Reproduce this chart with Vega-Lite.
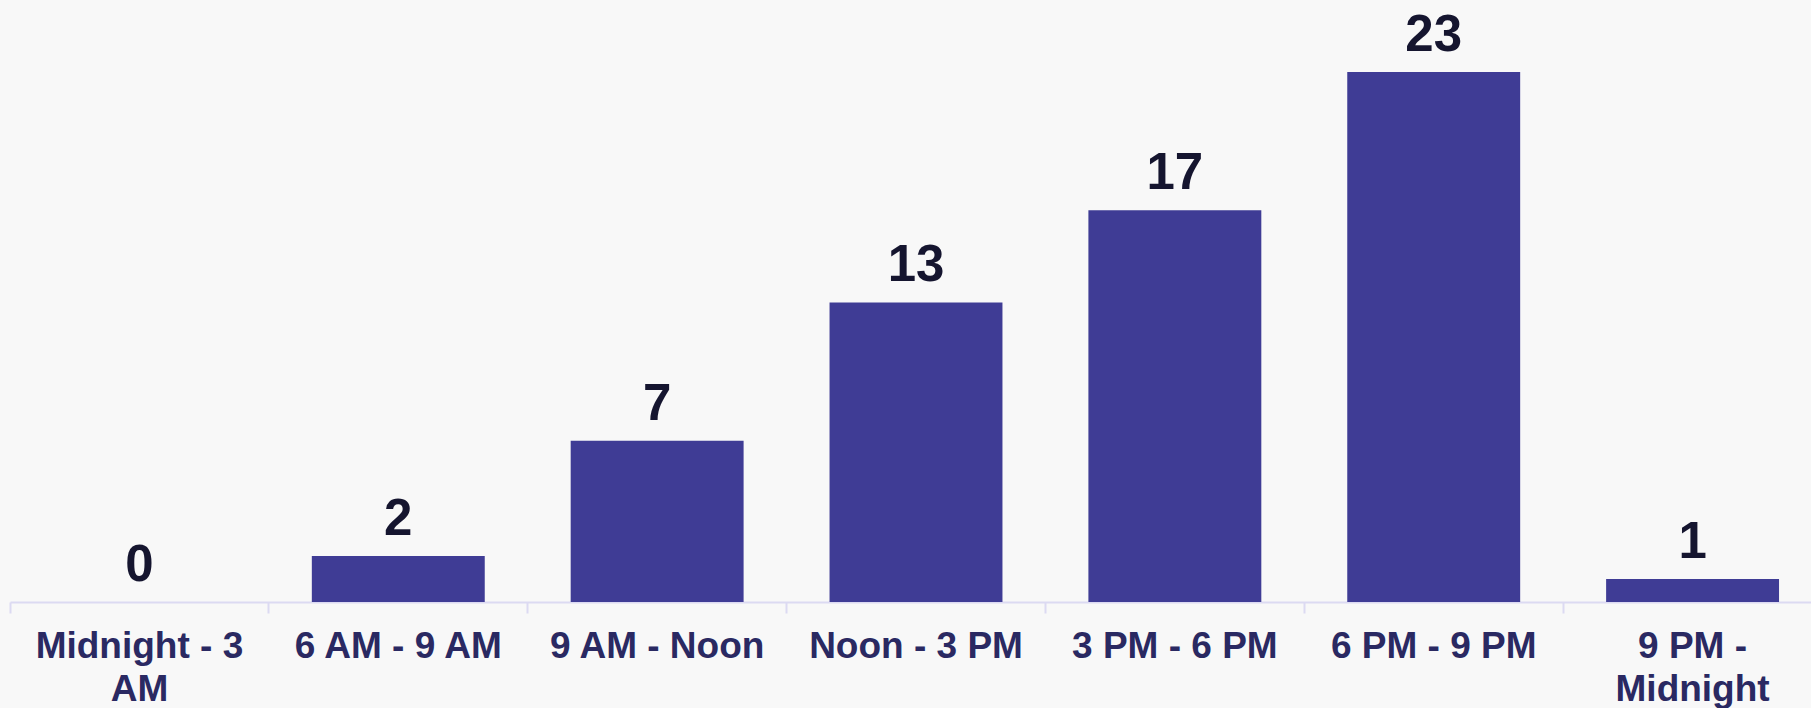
{
  "$schema": "https://vega.github.io/schema/vega-lite/v6.json",
  "autosize": "none",
  "width": 1812,
  "height": 530,
  "padding": {"left": 10, "top": 72, "right": 0, "bottom": 106},
  "background": "#f8f8f8",
  "config": {"view": {"stroke": null}, "font": "Liberation Sans"},
  "data": {
    "values": [
      {"period": "Midnight - 3 AM", "count": 0},
      {"period": "6 AM - 9 AM", "count": 2},
      {"period": "9 AM - Noon", "count": 7},
      {"period": "Noon - 3 PM", "count": 13},
      {"period": "3 PM - 6 PM", "count": 17},
      {"period": "6 PM - 9 PM", "count": 23},
      {"period": "9 PM - Midnight", "count": 1}
    ]
  },
  "encoding": {
    "x": {
      "field": "period",
      "type": "nominal",
      "sort": null,
      "scale": {"paddingInner": 0, "paddingOuter": 0},
      "axis": {
        "title": null,
        "labelAngle": 0,
        "bandPosition": 0,
        "labelFont": "Liberation Sans",
        "labelFontSize": 37,
        "labelFontWeight": "bold",
        "labelColor": "#2a2962",
        "labelLineHeight": 43,
        "labelPadding": 15,
        "labelLimit": 400,
        "labelBaseline": "top",
        "labelExpr": "datum.value == 'Midnight - 3 AM' ? ['Midnight - 3', 'AM'] : datum.value == '9 PM - Midnight' ? ['9 PM -', 'Midnight'] : datum.value",
        "domainColor": "#dcdaf2",
        "domainWidth": 2,
        "tickColor": "#dcdaf2",
        "tickWidth": 2,
        "tickSize": 11
      }
    },
    "y": {
      "field": "count",
      "type": "quantitative",
      "scale": {"domain": [0, 23], "nice": false},
      "axis": null
    }
  },
  "layer": [
    {
      "mark": {"type": "bar", "color": "#3f3c95", "width": {"band": 0.668}}
    },
    {
      "mark": {
        "type": "text",
        "font": "Liberation Sans",
        "fontSize": 51,
        "fontWeight": "bold",
        "color": "#15152f",
        "baseline": "alphabetic",
        "dy": -21
      },
      "encoding": {"text": {"field": "count", "type": "quantitative"}}
    }
  ]
}
